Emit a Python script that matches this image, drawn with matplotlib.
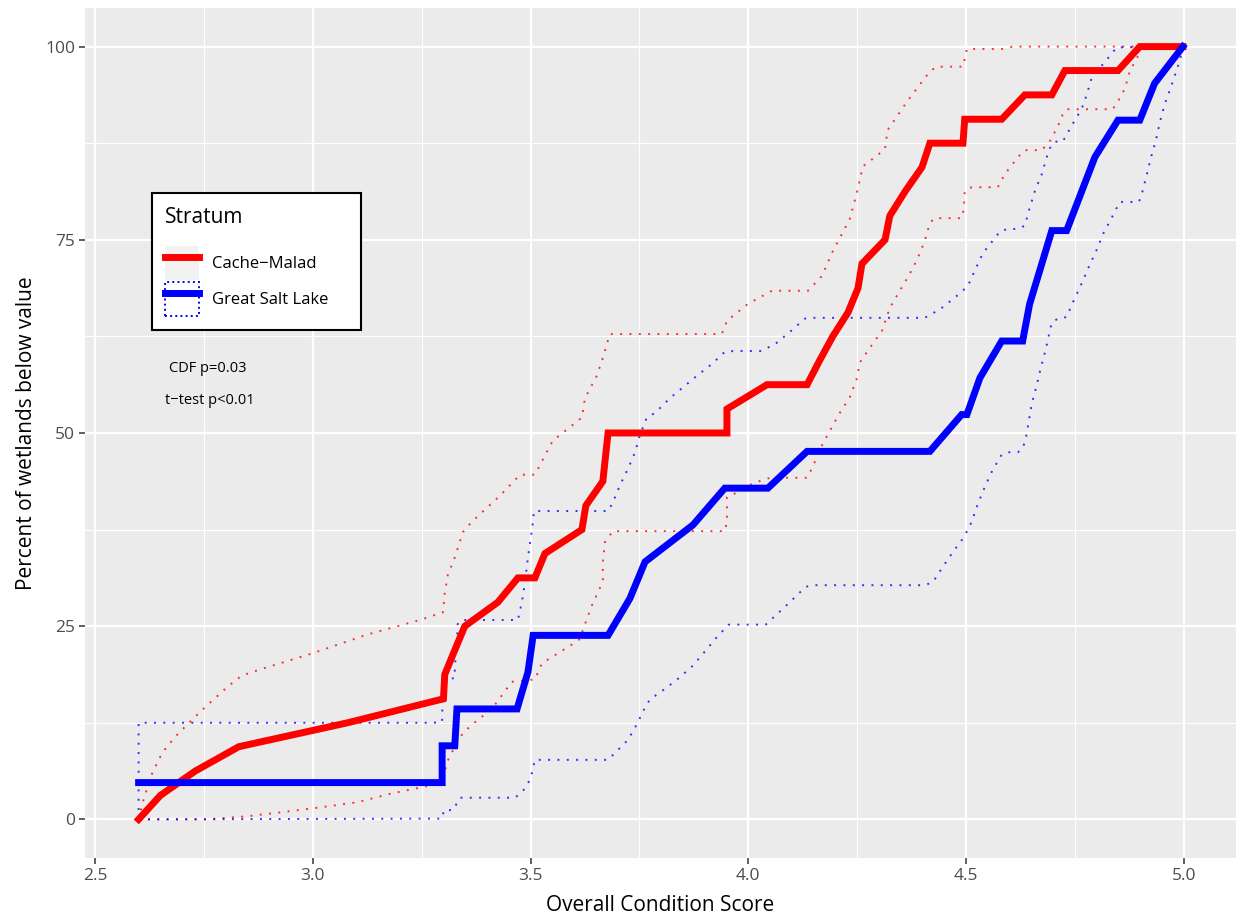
import matplotlib
matplotlib.use("Agg")
import matplotlib.pyplot as plt
from matplotlib.lines import Line2D
from matplotlib.patches import Patch
from matplotlib.legend_handler import HandlerTuple

plt.rcParams['font.family'] = ['Open Sans', 'DejaVu Sans']

# Cache-Malad: CDF estimate and dotted confidence bounds
cm_x = [2.60, 2.65, 2.73, 2.83, 3.08, 3.30, 3.303, 3.326, 3.349, 3.425,
        3.471, 3.510, 3.533, 3.618, 3.627, 3.666, 3.678, 3.951, 3.951, 4.043,
        4.135, 4.164, 4.194, 4.229, 4.252, 4.261, 4.314, 4.325, 4.36, 4.399,
        4.417, 4.493, 4.497, 4.582, 4.635, 4.697, 4.727, 4.849, 4.899, 4.998]
cm_y = [0, 3.1, 6.25, 9.4, 12.5, 15.6, 18.75, 21.9, 25, 28.1,
        31.25, 31.25, 34.4, 37.5, 40.6, 43.75, 50, 50, 53.1, 56.25,
        56.25, 59.4, 62.5, 65.6, 68.75, 71.9, 75, 78.1, 81.25, 84.4,
        87.5, 87.5, 90.6, 90.6, 93.75, 93.75, 96.9, 96.9, 100, 100]

cm_hi_x = [2.60, 2.610, 2.629, 2.654, 2.684, 2.741, 2.805, 2.837, 2.879, 3.0,
           3.124, 3.246, 3.299, 3.303, 3.310, 3.326, 3.345, 3.365, 3.430, 3.476,
           3.510, 3.551, 3.618, 3.625, 3.652, 3.666, 3.682, 3.939, 3.951, 3.999,
           4.054, 4.137, 4.169, 4.194, 4.233, 4.249, 4.263, 4.298, 4.314, 4.320,
           4.366, 4.417, 4.433, 4.493, 4.502, 4.584, 4.607, 4.998]
cm_hi_y = [0, 2.3, 5.7, 8.6, 10.7, 13.9, 17.2, 18.6, 19.4, 21.5,
           23.9, 25.8, 26.8, 29.3, 31.6, 33.9, 37.2, 38.5, 41.9, 44.6,
           44.6, 49, 52, 54.5, 57.4, 59.7, 62.8, 62.8, 64.5, 66.7,
           68.4, 68.4, 70.3, 73.5, 77.7, 81, 84.5, 86, 86.8, 89.2,
           93, 96.8, 97.4, 97.4, 99.7, 99.7, 100, 100]

cm_lo_x = [2.60, 2.757, 2.849, 2.925, 3.010, 3.101, 3.177, 3.262, 3.285, 3.303,
           3.308, 3.326, 3.345, 3.379, 3.41, 3.457, 3.510, 3.526, 3.549, 3.597,
           3.615, 3.620, 3.641, 3.659, 3.666, 3.666, 3.671, 3.689, 3.946, 3.951,
           3.951, 3.974, 4.011, 4.050, 4.135, 4.146, 4.171, 4.210, 4.233, 4.249,
           4.256, 4.279, 4.307, 4.325, 4.348, 4.371, 4.389, 4.405, 4.417, 4.428,
           4.490, 4.495, 4.497, 4.513, 4.573, 4.589, 4.607, 4.624, 4.635, 4.674,
           4.692, 4.711, 4.722, 4.731, 4.837, 4.853, 4.865, 4.876, 4.892, 4.906,
           4.998]
cm_lo_y = [0, 0, 0.4, 0.9, 1.5, 2.2, 3.3, 4.3, 4.9, 6.1,
           7.4, 9.4, 11.2, 12.9, 14.2, 17.8, 18.1, 20.2, 21.0, 22.7,
           23.4, 24.5, 27.7, 29.9, 31.0, 33.3, 35.9, 37.3, 37.3, 38.5,
           41.7, 42.3, 43.5, 44.2, 44.2, 45.4, 48.6, 52.6, 54.6, 57.0,
           59.1, 61.0, 63.2, 66.2, 68.4, 70.6, 72.6, 74.8, 77.2, 77.8,
           77.8, 79.0, 81.3, 81.8, 81.8, 83.5, 84.8, 86.0, 86.6, 86.6,
           87.7, 89.7, 91.2, 91.9, 91.9, 93.3, 94.6, 96.8, 98.5, 99.9,
           100]

# Great Salt Lake
gsl_x = [2.60, 3.297, 3.297, 3.326, 3.331, 3.469, 3.494, 3.506, 3.678, 3.728,
         3.763, 3.873, 3.946, 4.045, 4.135, 4.417, 4.490, 4.502, 4.532, 4.582,
         4.630, 4.646, 4.697, 4.731, 4.796, 4.849, 4.899, 4.933, 4.998]
gsl_y = [4.76, 4.76, 9.52, 9.52, 14.29, 14.29, 19.05, 23.81, 23.81, 28.57,
         33.33, 38.1, 42.86, 42.86, 47.62, 47.62, 52.38, 52.38, 57.14, 61.9,
         61.9, 66.67, 76.19, 76.19, 85.71, 90.48, 90.48, 95.24, 100]

gsl_hi_x = [2.60, 2.60, 3.276, 3.297, 3.297, 3.303, 3.308, 3.326, 3.326, 3.331,
            3.333, 3.345, 3.471, 3.480, 3.487, 3.494, 3.503, 3.508, 3.678, 3.689,
            3.705, 3.724, 3.740, 3.751, 3.767, 3.786, 3.820, 3.850, 3.882, 3.916,
            3.946, 3.965, 4.031, 4.066, 4.098, 4.130, 4.148, 4.405, 4.440, 4.474,
            4.504, 4.520, 4.539, 4.566, 4.578, 4.596, 4.617, 4.635, 4.646, 4.658,
            4.674, 4.686, 4.692, 4.704, 4.722, 4.743, 4.766, 4.780, 4.784, 4.796,
            4.826, 4.846, 4.998]
gsl_hi_y = [0, 12.5, 12.5, 12.6, 13.9, 16.5, 18.1, 18.3, 19.6, 23.0,
            25.4, 25.8, 25.8, 28.1, 30.6, 33.9, 37.4, 39.9, 39.9, 41.0,
            43.2, 45.4, 47.5, 49.7, 52.0, 52.6, 54.5, 55.9, 57.4, 58.9,
            60.5, 60.6, 60.6, 61.7, 63.2, 64.8, 64.9, 64.9, 66.0, 67.5,
            69.0, 71.0, 73.3, 75.2, 76.1, 76.4, 76.4, 76.8, 79.1, 81.3,
            83.5, 85.8, 86.8, 87.7, 87.7, 89.8, 92.0, 94.2, 95.4, 96.5,
            98.5, 99.9, 100]

gsl_lo_x = [2.60, 3.297, 3.301, 3.322, 3.331, 3.338, 3.464, 3.480, 3.492, 3.501,
            3.506, 3.510, 3.678, 3.694, 3.724, 3.744, 3.763, 3.774, 3.809, 3.841,
            3.873, 3.900, 3.928, 3.955, 4.040, 4.086, 4.132, 4.151, 4.405, 4.424,
            4.447, 4.470, 4.495, 4.513, 4.527, 4.543, 4.561, 4.582, 4.598, 4.619,
            4.630, 4.637, 4.644, 4.651, 4.662, 4.672, 4.683, 4.692, 4.697, 4.711,
            4.731, 4.747, 4.766, 4.782, 4.800, 4.816, 4.835, 4.853, 4.897, 4.904,
            4.915, 4.924, 4.936, 4.945, 4.956, 4.970, 4.984, 4.991, 4.998]
gsl_lo_y = [0, 0.1, 1.2, 1.2, 2.1, 2.8, 2.8, 3.5, 4.4, 5.5,
            6.7, 7.7, 7.7, 8.6, 10.3, 12.3, 14.5, 15.5, 16.9, 18.3,
            19.9, 21.7, 23.6, 25.2, 25.2, 27.6, 30.1, 30.3, 30.3, 30.7,
            32.7, 34.6, 36.5, 38.5, 40.8, 43.0, 45.2, 47.2, 47.5, 47.5,
            48.0, 49.2, 51.5, 53.8, 56.1, 58.5, 60.8, 63.1, 64.3, 64.8,
            65.0, 67.1, 69.4, 71.5, 73.7, 75.9, 77.9, 79.9, 79.9, 81.0,
            83.4, 85.5, 87.9, 90.2, 92.5, 94.7, 97.0, 98.2, 100]

strata = ["Cache\u2212Malad", "Great Salt Lake"]
colors = ["#FF0000", "#0000FF"]
x_ticks = [2.5, 3.0, 3.5, 4.0, 4.5, 5.0]
y_ticks = [0, 25, 50, 75, 100]

fig = plt.figure(figsize=(12.38, 9.15), dpi=100)
ax = fig.add_axes([0.0687, 0.0623, 0.9297, 0.929])
ax.set_facecolor("#EBEBEB")
for s in ax.spines.values():
    s.set_visible(False)

dots = (0, (1, 3.8))
ax.plot(cm_hi_x, cm_hi_y, color=colors[0], lw=1.4, ls=dots, alpha=0.8)
ax.plot(cm_lo_x, cm_lo_y, color=colors[0], lw=1.4, ls=dots, alpha=0.8)
ax.plot(gsl_hi_x, gsl_hi_y, color=colors[1], lw=1.4, ls=dots, alpha=0.8)
ax.plot(gsl_lo_x, gsl_lo_y, color=colors[1], lw=1.4, ls=dots, alpha=0.8)
ax.plot(cm_x, cm_y, color=colors[0], lw=5, solid_joinstyle="miter")
ax.plot(gsl_x, gsl_y, color=colors[1], lw=5, solid_joinstyle="miter")

ax.set_xlim(2.477, 5.12)
ax.set_ylim(-5, 105)
ax.set_xticks(x_ticks)
ax.set_xticklabels([f"{v:.1f}" for v in x_ticks])
ax.set_yticks(y_ticks)
ax.set_xticks([2.75, 3.25, 3.75, 4.25, 4.75], minor=True)
ax.set_yticks([12.5, 37.5, 62.5, 87.5], minor=True)
ax.grid(which="major", color="white", lw=1.6)
ax.grid(which="minor", color="white", lw=0.8)
ax.set_axisbelow(True)
ax.tick_params(which="major", length=4, width=1.1, color="#333333",
               labelsize=12.5, labelcolor="#4D4D4D", pad=3)
ax.tick_params(which="minor", length=0)

ax.set_xlabel("Overall Condition Score", fontsize=15, labelpad=8)
ax.set_ylabel("Percent of wetlands below value", fontsize=15, labelpad=6)

ax.text(2.759, 58.3, "CDF p=0.03", fontsize=10.5, ha="center", va="center")
ax.text(2.764, 54.2, "t\u2212test p<0.01", fontsize=10.5, ha="center", va="center")

# legend keys: grey key box / dotted ribbon outline with the thick line on top
handles = [
    (Patch(facecolor="#F2F2F2", edgecolor="none"),
     Line2D([], [], color=colors[0], lw=5)),
    (Patch(facecolor="none", edgecolor=colors[1], ls=":", lw=1.4),
     Line2D([], [], color=colors[1], lw=5)),
]
leg = ax.legend(handles, strata, title="Stratum", loc="upper left",
                bbox_to_anchor=(0.0582, 0.623, 0.1816, 0.159), mode="expand",
                borderaxespad=0,
                handler_map={tuple: HandlerTuple(ndivide=1, pad=0)},
                fontsize=12, title_fontsize=15, frameon=True, fancybox=False,
                handlelength=2.0, handleheight=2.76, handletextpad=0.8,
                labelspacing=0.12, borderpad=0.8)
leg._legend_box.align = "left"
leg._legend_box.sep = 13.5
frame = leg.get_frame()
frame.set_edgecolor("black")
frame.set_linewidth(1.5)
frame.set_facecolor("white")
frame.set_alpha(1)

fig.savefig("out.png", dpi=100)
